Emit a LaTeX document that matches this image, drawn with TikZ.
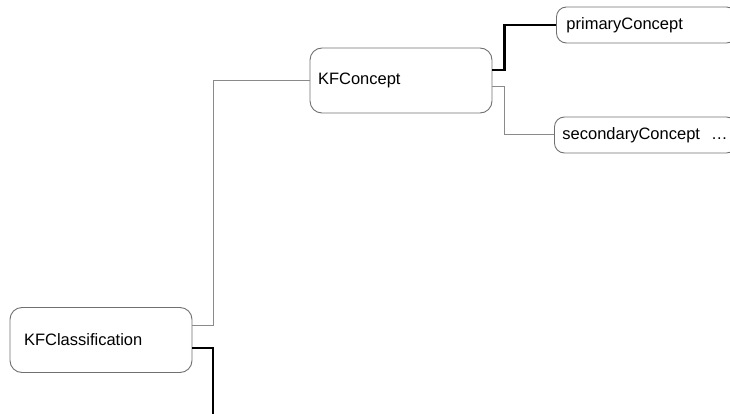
\documentclass[tikz,border=0pt]{standalone}
\usepackage{fontspec}
\setmainfont{Liberation Sans}
\usetikzlibrary{positioning,calc}
\definecolor{boxgray}{HTML}{707070}
\definecolor{linegray}{HTML}{8A8A8A}
\tikzset{%
  box/.style={draw=boxgray,rounded corners=12pt,align=left,minimum height=65pt,text width=160pt,inner xsep=11pt,line width=0.9pt},
  leaf/.style={draw=boxgray,rounded corners=10pt,align=left,minimum height=36pt,text width=160pt,inner xsep=10pt,anchor=west,line width=0.9pt},
  link/.style={draw=linegray,line width=1pt},
  mainlink/.style={draw=black,line width=2.6pt}%
}

\begin{document}
\begin{tikzpicture}[x=1pt,y=1pt,font=\fontsize{16.5}{19}\selectfont]
\useasboundingbox (0,0) rectangle (730,413);
\clip (0,0) rectangle (730,413);

% Nodes
\node[box, inner xsep=14pt, text width=154pt] (cls) at (101,73) {KFClassification};
\node[box, inner xsep=8pt, text width=166pt] (concept) at (401,332.5) {KFConcept};
\node[leaf] (primary) at (556,388) {primaryConcept};
\node[leaf, inner xsep=8pt, text width=166pt] (secondary) at (554,278) {secondaryConcept \ \ldots};
\coordinate (down) at (213,-5);

% Connectors
\draw[link] ([yshift=15pt]cls.east) -- ++(21pt,0) |- (concept.west);
\draw[mainlink] ([yshift=-8pt]cls.east) -| (down);
\draw[mainlink] ([yshift=10.5pt]concept.east) -- ++(12pt,0) |- (primary.west);
\draw[link] ([yshift=-6.5pt]concept.east) -- ++(12pt,0) |- (secondary.west);

\end{tikzpicture}
\end{document}
